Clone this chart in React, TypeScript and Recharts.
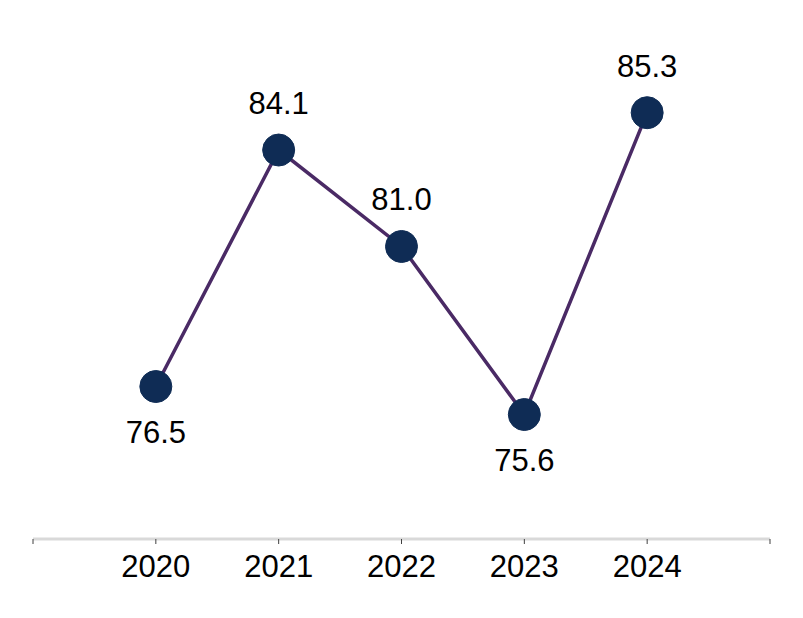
import { LineChart, Line, XAxis, YAxis, LabelList } from 'recharts';

const years = [2020, 2021, 2022, 2023, 2024];
const values = [76.5, 84.1, 81.0, 75.6, 85.3];
// true = label sits under the dot
const labelBelow = [true, false, false, true, false];
const axisTicks = [2019, 2020, 2021, 2022, 2023, 2024, 2025];

const rows = years.map((year, i) => ({ year, value: values[i] }));

const FONT = '"Liberation Sans", Arial, sans-serif';

function PointLabel(props: any) {
  const { x, y, value, index } = props;
  const below = labelBelow[index];
  return (
    <text
      x={x}
      y={below ? y + 56 : y - 36}
      textAnchor="middle"
      fontSize={31}
      fontFamily={FONT}
      fill="#000"
    >
      {Number(value).toFixed(1)}
    </text>
  );
}

export default function App() {
  return (
    <div style={{ position: 'absolute', left: 0, top: 0, background: '#fff' }}>
      <LineChart width={803} height={618} data={rows} margin={{ top: 10, right: 33, bottom: 39, left: 33 }}>
        <XAxis
          dataKey="year"
          type="number"
          domain={[2019, 2025]}
          ticks={axisTicks}
          tickFormatter={(v: number) => (years.includes(v) ? String(v) : '')}
          axisLine={{ stroke: '#d9d9d9', strokeWidth: 3 }}
          tickLine={{ stroke: '#404040', strokeWidth: 1 }}
          tickSize={5}
          tickMargin={11}
          height={40}
          tick={{ fill: '#000', fontSize: 31, fontFamily: FONT }}
          interval={0}
        />
        <YAxis hide domain={[71.6, 88.6]} />
        <Line
          dataKey="value"
          stroke="#4a2a65"
          strokeWidth={3.5}
          dot={{ r: 16, fill: '#0f2c55', stroke: '#0f2c55', strokeWidth: 1 }}
          activeDot={false}
          isAnimationActive={false}
        >
          <LabelList dataKey="value" content={PointLabel} />
        </Line>
      </LineChart>
    </div>
  );
}
